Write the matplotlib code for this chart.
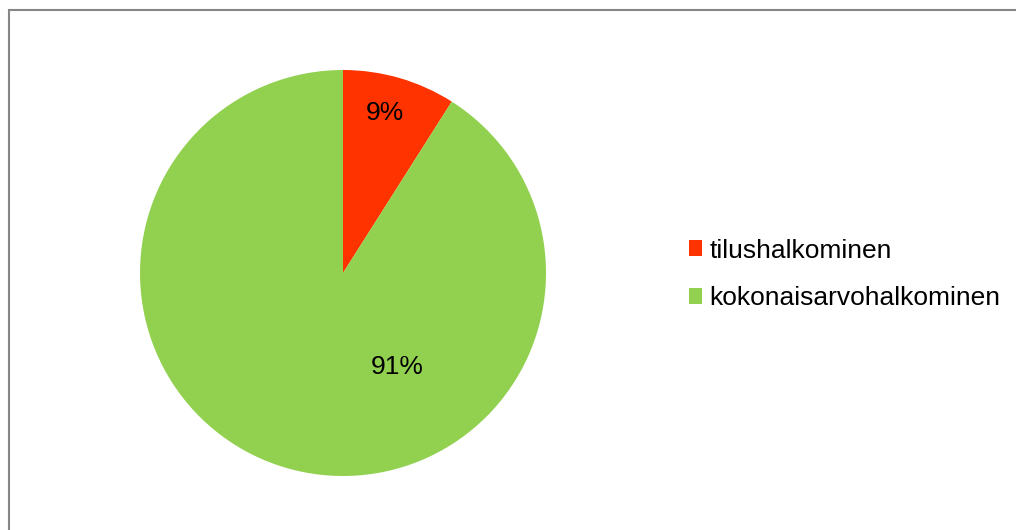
import numpy as np
import matplotlib.pyplot as plt
import matplotlib.patches as mpatches

plt.rcParams['font.family'] = ['Liberation Sans', 'DejaVu Sans']

# share of each kind of split
labels = ['tilushalkominen', 'kokonaisarvohalkominen']
shares = [9, 91]
colors = ['#FF3300', '#92D050']

W, H = 1016, 530
fig = plt.figure(figsize=(W / 100, H / 100), dpi=100)

# gray frame around the chart area
frame = mpatches.Rectangle((9 / W, -0.2), 1.2, 1.2 - 9.5 / H, transform=fig.transFigure,
                           fill=False, edgecolor='#868686', linewidth=1.5)
fig.patches.append(frame)

# pie sits in a square box, centre (343, 273) px, radius 203 px
r = 203
ax = fig.add_axes([(343 - r) / W, (H - 273 - r) / H, 2 * r / W, 2 * r / H])
wedges, texts, autotexts = ax.pie(shares, colors=colors, startangle=90, counterclock=False,
                                  radius=1, autopct='%1.0f%%', pctdistance=0.8,
                                  wedgeprops=dict(linewidth=0),
                                  textprops=dict(fontsize=19, color='black'))
ax.set_xlim(-1, 1)
ax.set_ylim(-1, 1)
ax.set_aspect('equal')
ax.axis('off')

# label placement
autotexts[0].set_position((42 / r, 160 / r))
autotexts[1].set_position((54 / r, -94 / r))

fig.legend(wedges, labels, loc='center left', bbox_to_anchor=(689 / W, 1 - 274.5 / H),
           frameon=False, fontsize=19, handlelength=0.5, handleheight=0.55,
           handletextpad=0.27, labelspacing=0.9, borderpad=0, borderaxespad=0)

fig.savefig('out.png', dpi=100)
